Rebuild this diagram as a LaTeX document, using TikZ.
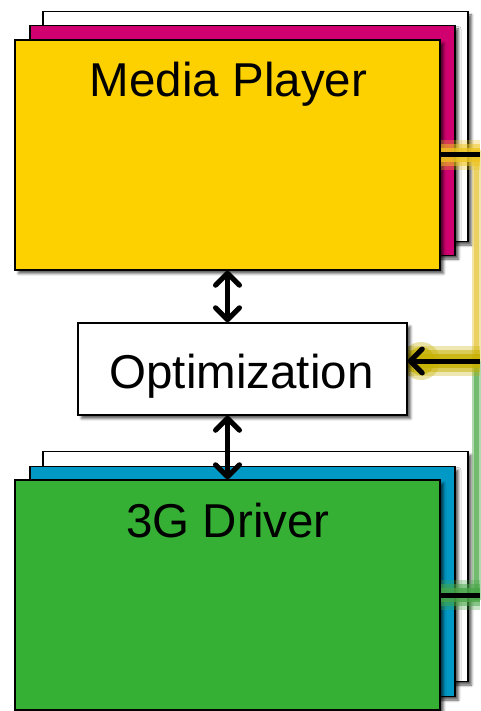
\documentclass[tikz,border=0pt]{standalone}
\usepackage{fontspec}
\setmainfont{Liberation Sans}
\usetikzlibrary{arrows.meta,shadows.blur,calc}

\definecolor{mpyellow}{RGB}{253,208,0}
\definecolor{mpmagenta}{RGB}{208,0,112}
\definecolor{drvgreen}{RGB}{53,176,53}
\definecolor{drvblue}{RGB}{0,153,198}
\definecolor{glowyellow}{RGB}{238,196,30}
\definecolor{glowolive}{RGB}{198,176,0}
\definecolor{glowgreen}{RGB}{70,165,70}
\definecolor{railyellow}{RGB}{232,204,80}
\definecolor{railgreen}{RGB}{100,180,95}

\tikzset{
  panel/.style={draw=black, line width=1.5pt, inner sep=0pt,
    minimum width=425pt, minimum height=230pt,
    blur shadow={shadow xshift=3.5pt, shadow yshift=-3.5pt,
      shadow blur radius=2.5pt, shadow opacity=65}},
  title/.style={anchor=base, inner sep=0pt,
    font=\fontsize{47.5}{57}\selectfont},
  barb/.tip={Straight Barb[length=12pt,width=24pt,round]},
  dblarrow/.style={line width=5pt, barb-barb},
  inarrow/.style={line width=5pt, -barb},
  link/.style={line width=5pt},
  glowline/.style={line cap=butt,
    preaction={draw=#1, line width=30pt, opacity=0.3},
    preaction={draw=#1, line width=22pt, opacity=0.5},
    preaction={draw=#1, line width=14pt, opacity=0.75}},
  rail/.style={line cap=butt,
    preaction={draw=#1, line width=9pt, opacity=0.5},
    preaction={draw=#1, line width=5pt, opacity=0.8}},
}

\begin{document}
\begin{tikzpicture}[x=1pt, y=-1pt]
  \useasboundingbox (0,0) rectangle (480,711);
  \coordinate (edge) at (480,0);

  % Media Player stack
  \node[panel, fill=white]     (mpback) at (255.5,126.5) {};
  \node[panel, fill=mpmagenta] (mpmid)  at (242.5,140.5) {};
  \node[panel, fill=mpyellow]  (mp)     at (227.5,155)   {};
  \node[title] (mptext) at (228.5,97) {Media Player};

  % 3G Driver stack
  \node[panel, fill=white]    (drvback) at (255.5,566.5) {};
  \node[panel, fill=drvblue]  (drvmid)  at (242.5,581.5) {};
  \node[panel, fill=drvgreen] (drv)     at (227.5,595)   {};
  \node[title] (drvtext) at (228,537) {3G Driver};

  % feedback rail on the right edge
  \coordinate (railtop) at (476.5,150);
  \coordinate (railmid) at (476.5,361);
  \coordinate (railbot) at (476.5,600);
  \path[rail=railyellow] (railtop) -- (railmid);
  \path[rail=railgreen]  (railmid) -- (railbot);

  \path[glowline=glowyellow] (mp.east) -- (mp.east -| edge);
  \path[glowline=glowgreen]  (drv.east) -- (drv.east -| edge);
  \coordinate (optin) at (480,361);
  \path[glowline=glowolive] (optin) -- (407,361);
  \fill[glowolive, opacity=0.35] (421,361) circle (19pt);
  \fill[glowolive, opacity=0.6] (421,361) circle (14pt);

  % Optimization block
  \node[panel, fill=white, minimum width=329pt, minimum height=92pt]
    (opt) at (242.5,369) {};
  \node[title] (opttext) at (241.5,388) {Optimization};

  % connectors
  \draw[link] (mp.east) -- (mp.east -| edge);
  \draw[link] (drv.east) -- (drv.east -| edge);
  \draw[inarrow] (optin) -- (optin -| opt.east);
  \draw[dblarrow] (mp.south) -- (mp.south |- opt.north);
  \draw[dblarrow] (opt.south -| drv.north) -- (drv.north);
\end{tikzpicture}
\end{document}
